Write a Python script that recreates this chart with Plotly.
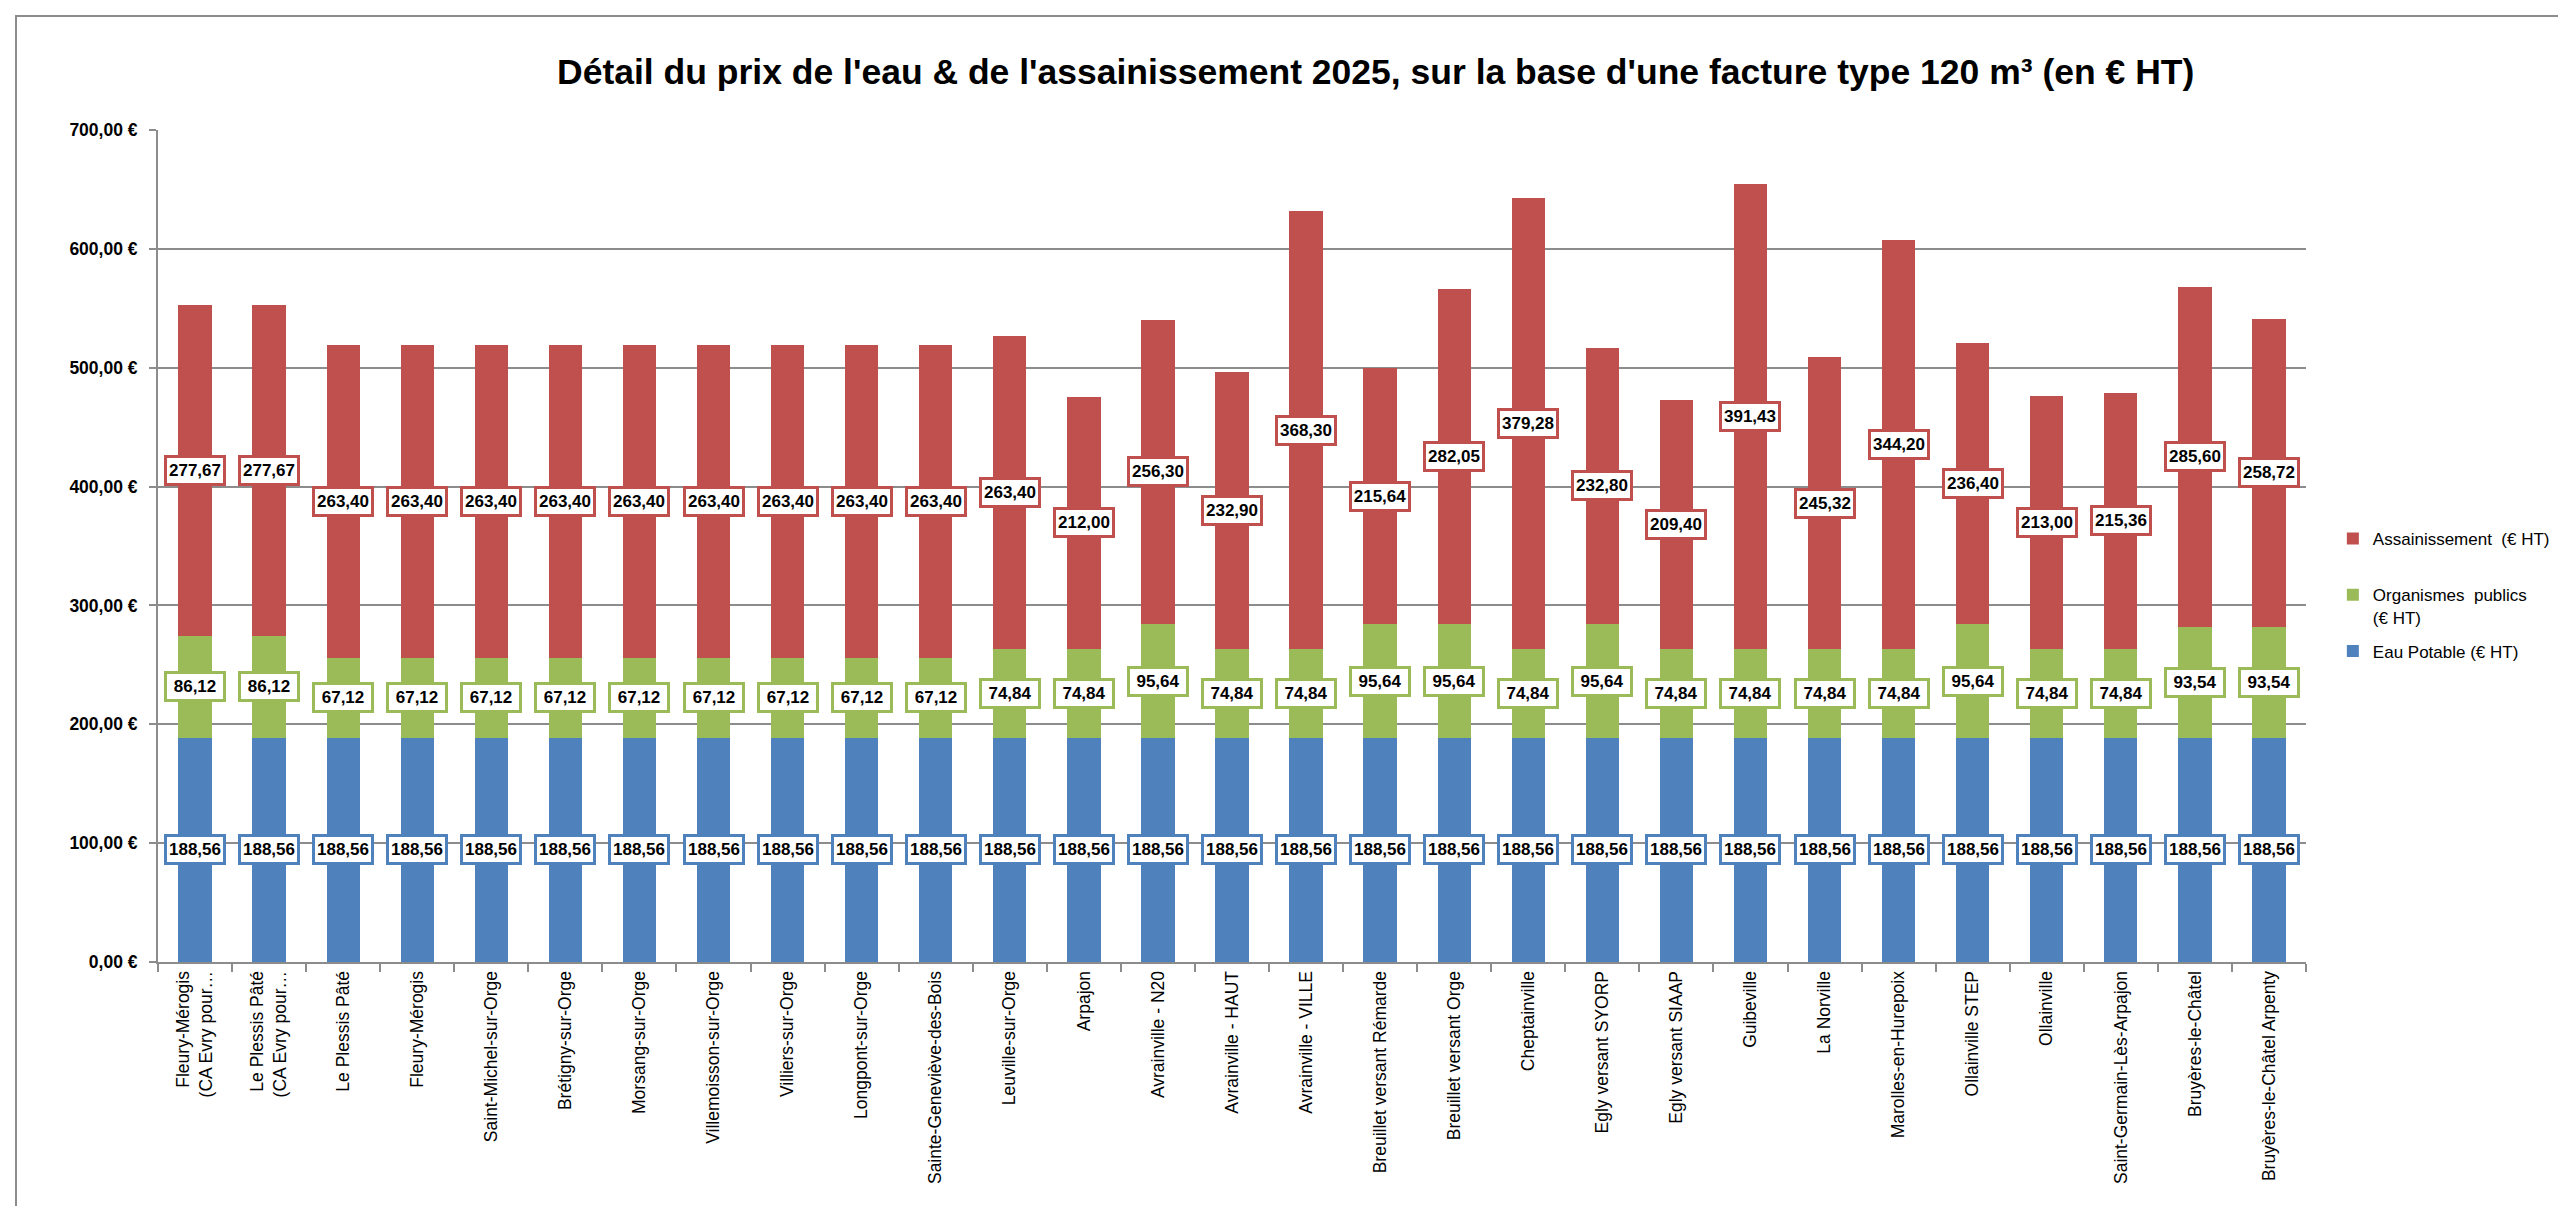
import plotly.graph_objects as go

# Detail du prix de l'eau 2025 - facture type 120 m3 (en EUR HT)
communes = [
    "Fleury-Mérogis<br>(CA Evry pour…",
    "Le Plessis Pâté<br>(CA Evry pour…",
    "Le Plessis Pâté",
    "Fleury-Mérogis",
    "Saint-Michel-sur-Orge",
    "Brétigny-sur-Orge",
    "Morsang-sur-Orge",
    "Villemoisson-sur-Orge",
    "Villiers-sur-Orge",
    "Longpont-sur-Orge",
    "Sainte-Geneviève-des-Bois",
    "Leuville-sur-Orge",
    "Arpajon",
    "Avrainville - N20",
    "Avrainville - HAUT",
    "Avrainville - VILLE",
    "Breuillet versant Rémarde",
    "Breuillet versant Orge",
    "Cheptainville",
    "Egly versant SYORP",
    "Egly versant SIAAP",
    "Guibeville",
    "La Norville",
    "Marolles-en-Hurepoix",
    "Ollainville STEP",
    "Ollainville",
    "Saint-Germain-Lès-Arpajon",
    "Bruyères-le-Châtel",
    "Bruyères-le-Châtel Arpenty",
]

eau_potable = [
    188.56, 188.56, 188.56, 188.56, 188.56, 188.56, 188.56, 188.56, 188.56, 188.56,
    188.56, 188.56, 188.56, 188.56, 188.56, 188.56, 188.56, 188.56, 188.56, 188.56,
    188.56, 188.56, 188.56, 188.56, 188.56, 188.56, 188.56, 188.56, 188.56,
]

organismes = [
    86.12, 86.12, 67.12, 67.12, 67.12, 67.12, 67.12, 67.12, 67.12, 67.12,
    67.12, 74.84, 74.84, 95.64, 74.84, 74.84, 95.64, 95.64, 74.84, 95.64,
    74.84, 74.84, 74.84, 74.84, 95.64, 74.84, 74.84, 93.54, 93.54,
]

assainissement = [
    277.67, 277.67, 263.40, 263.40, 263.40, 263.40, 263.40, 263.40, 263.40, 263.40,
    263.40, 263.40, 212.00, 256.30, 232.90, 368.30, 215.64, 282.05, 379.28, 232.80,
    209.40, 391.43, 245.32, 344.20, 236.40, 213.00, 215.36, 285.60, 258.72,
]

BLUE = "#4F81BD"
GREEN = "#9BBB59"
RED = "#C0504D"
GRID = "#8C8C8C"
SANS = "Liberation Sans, Arial, sans-serif"

fig = go.Figure()
fig.add_trace(go.Bar(x=communes, y=eau_potable, name="Eau Potable (€ HT)",
                     marker=dict(color=BLUE, line=dict(width=0)),
                     legendgroup="a", legendrank=3))
fig.add_trace(go.Bar(x=communes, y=organismes, name="Organismes  publics<br>(€ HT)",
                     marker=dict(color=GREEN, line=dict(width=0)),
                     legendgroup="b", legendrank=2))
# trailing blank line gives the wider gap seen under this legend entry
fig.add_trace(go.Bar(x=communes, y=assainissement, name="Assainissement\u00a0 (€ HT)<br> ",
                     marker=dict(color=RED, line=dict(width=0)),
                     legendgroup="c", legendrank=1))


def fr(v):
    return f"{v:.2f}".replace(".", ",")


# centred data labels in white boxes
annotations = []
for i, c in enumerate(communes):
    base = 0
    for vals, col in ((eau_potable, BLUE), (organismes, GREEN), (assainissement, RED)):
        v = vals[i]
        annotations.append(dict(
            x=c, y=base + v / 2, xref="x", yref="y", text=fr(v), showarrow=False,
            font=dict(family=SANS, size=17, color="black", weight="bold"),
            width=54, height=23,
            bgcolor="white", bordercolor=col, borderwidth=3, borderpad=1,
        ))
        base += v

fig.update_layout(
    width=2566, height=1206,
    margin=dict(l=150, r=268, t=122, b=252),
    paper_bgcolor="white", plot_bgcolor="white",
    barmode="stack", bargap=0.55,
    separators=", ",
    title=dict(
        text="Détail du prix de l'eau & de l'assainissement 2025, sur la base d'une facture type 120 m³ (en € HT)",
        x=0.533, xanchor="center", xref="container",
        y=0.947, yanchor="middle",
        font=dict(family=SANS, size=35.5, color="black", weight="bold"),
    ),
    legend=dict(
        x=1.0125, xanchor="left", y=0.53, yanchor="top",
        traceorder="grouped", tracegroupgap=9, valign="top",
        font=dict(family=SANS, size=17, color="black"),
        bgcolor="rgba(0,0,0,0)",
    ),
    annotations=annotations,
    shapes=[dict(type="rect", xref="paper", yref="paper",
                 x0=-142 / 2148, x1=2405 / 2148, y0=-300 / 832, y1=946 / 832,
                 line=dict(color="#8C8C8C", width=2), layer="below")],
    showlegend=True,
)

fig.update_yaxes(
    range=[0, 700], dtick=100, tickformat=",.2f", ticksuffix=" €",
    showgrid=True, gridcolor=GRID, gridwidth=1.5,
    showline=True, linecolor=GRID, linewidth=2,
    ticks="outside", ticklen=7, tickcolor=GRID, tickwidth=1.5,
    ticklabelstandoff=8,
    tickfont=dict(family=SANS, size=17.5, color="black", weight="bold"),
    zeroline=False, automargin=False,
)
fig.update_xaxes(
    type="category", tickangle=-90,
    showline=True, linecolor=GRID, linewidth=2,
    ticks="outside", tickson="boundaries", ticklen=8, tickcolor=GRID, tickwidth=1.5,
    tickfont=dict(family=SANS, size=17.5, color="black"),
    showgrid=False, automargin=False,
)

fig.write_html("out.html")
